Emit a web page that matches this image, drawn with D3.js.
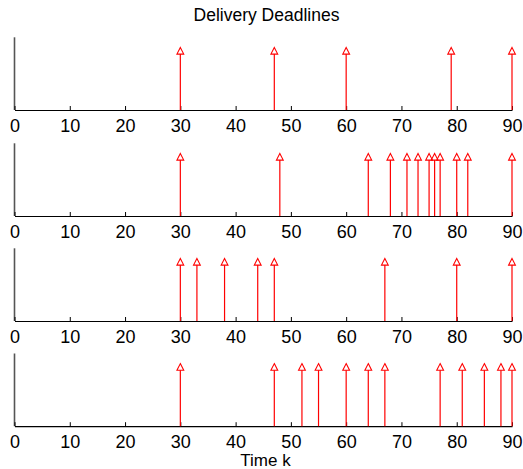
<!DOCTYPE html>
<html><head><meta charset="utf-8">
<script src="https://cdn.jsdelivr.net/npm/d3@7"></script>
<style>body{margin:0;background:#fff}svg{display:block;font-family:"Liberation Sans",Arial,sans-serif}</style>
</head><body>
<script>
const title = "Delivery Deadlines";
const xLabel = "Time k";
const xTicks = [0,10,20,30,40,50,60,70,80,90];
const deadlines1 = [30,47,60,79,90];
const deadlines2 = [30,48,64,68,71,73,75,76,77,80,82,90];
const deadlines3 = [30,33,38,44,47,67,80,90];
const deadlines4 = [30,47,52,55,60,64,67,77,81,85,88,90];
const panels = [deadlines1, deadlines2, deadlines3, deadlines4];
const stemValue = 1;

const W = 523, H = 469;
const svg = d3.select("body").append("svg").attr("width", W).attr("height", H);
const x = d3.scaleLinear().domain([0, 90]).range([14.5, 512]);
const tops = [37.3, 143.3, 248.3, 353.5];
const panelH = 72.7;

svg.append("text").attr("x", 266.5).attr("y", 20.5).attr("text-anchor", "middle")
  .attr("font-size", 17.5).attr("fill", "#000").text(title);

panels.forEach((data, i) => {
  const top = tops[i], base = top + panelH;
  const y = d3.scaleLinear().domain([0, 1.23]).range([base, top]);
  const g = svg.append("g");
  // left axis line
  g.append("line").attr("x1", x(0)).attr("x2", x(0)).attr("y1", y(1.23)).attr("y2", y(0))
    .attr("stroke", "#555").attr("stroke-width", 1.6);
  // bottom axis
  const ax = g.append("g").attr("transform", `translate(0,${base})`)
    .call(d3.axisBottom(x).tickValues(xTicks).tickSizeInner(-4).tickSizeOuter(0).tickPadding(9));
  ax.select(".domain").attr("stroke", "#000").attr("stroke-width", 1.2);
  ax.selectAll(".tick line").attr("stroke", "#000");
  ax.selectAll(".tick text").attr("font-size", 18).attr("fill", "#000")
    .attr("font-family", "Liberation Sans, Arial, sans-serif");
  // stems
  g.selectAll("line.stem").data(data).enter().append("line").attr("class", "stem")
    .attr("x1", d => x(d)).attr("x2", d => x(d))
    .attr("y1", y(0)).attr("y2", y(stemValue) + 3.2)
    .attr("stroke", "#ff0000").attr("stroke-width", 1.2);
  // triangle markers (outline)
  g.selectAll("path.mk").data(data).enter().append("path").attr("class", "mk")
    .attr("d", d => {
      const cx = x(d), cy = y(stemValue);
      return `M${cx},${cy - 3.5}L${cx + 3.4},${cy + 3.2}L${cx - 3.4},${cy + 3.2}Z`;
    })
    .attr("fill", "none").attr("stroke", "#ff0000").attr("stroke-width", 1.1);
});

svg.append("text").attr("x", 265.5).attr("y", 466).attr("text-anchor", "middle")
  .attr("font-size", 17).attr("fill", "#000").text(xLabel);
</script>
</body></html>
